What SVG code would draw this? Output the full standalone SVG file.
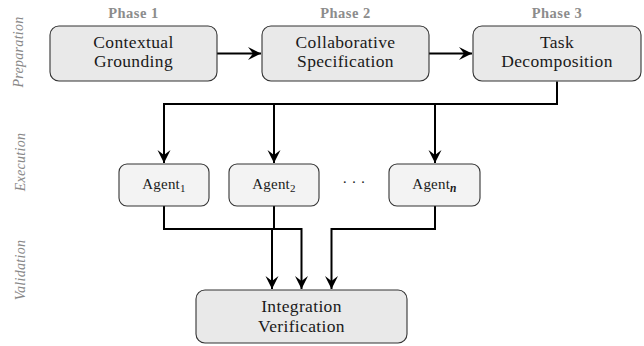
<svg xmlns="http://www.w3.org/2000/svg" width="644" height="346" viewBox="0 0 644 346">
  <style>
    .box { fill: #e9e9e9; stroke: #333; stroke-width: 1.1; }
    .abox { fill: #f3f3f3; stroke: #333; stroke-width: 1.1; }
    .t { font-family: "Liberation Serif", "DejaVu Serif", serif; font-size: 17.5px; letter-spacing: 0.35px; fill: #1a1a1a; text-anchor: middle; }
    .at { font-family: "Liberation Serif", "DejaVu Serif", serif; font-size: 15px; letter-spacing: 0.2px; fill: #1a1a1a; text-anchor: middle; }
    .ph { font-family: "Liberation Serif", "DejaVu Serif", serif; font-size: 14.5px; letter-spacing: 0.5px; font-weight: bold; fill: #8c8c8c; text-anchor: middle; }
    .side { font-family: "Liberation Serif", "DejaVu Serif", serif; font-size: 14px; letter-spacing: 0.3px; font-style: italic; fill: #888; text-anchor: middle; }
    .c { fill: none; stroke: #000; stroke-width: 2; marker-end: url(#ah); }
  </style>
  <defs>
    <marker id="ah" markerUnits="userSpaceOnUse" markerWidth="16" markerHeight="16" viewBox="-14 -8 16 16" refX="0" refY="0" orient="auto">
      <path d="M0,0 L-13,-6.5 L-8,0 L-13,6.5 Z" fill="#000"/>
    </marker>
  </defs>

  <g id="side-labels">
    <text class="side" transform="translate(23,52) rotate(-90)">Preparation</text>
    <text class="side" transform="translate(25,162) rotate(-90)">Execution</text>
    <text class="side" transform="translate(25,270) rotate(-90)">Validation</text>
  </g>

  <g id="phase-labels">
    <text class="ph" x="133.5" y="18">Phase 1</text>
    <text class="ph" x="345.5" y="18">Phase 2</text>
    <text class="ph" x="557" y="18">Phase 3</text>
  </g>

  <g id="connectors">
    <path class="c" d="M217,53.5 H261"/>
    <path class="c" d="M429,53.5 H472"/>
    <path class="c" d="M557,81.5 V104 H164 V163"/>
    <path class="c" d="M274,104 V163"/>
    <path class="c" d="M435,104 V163"/>
    <path class="c" d="M164,206 V229 H272 V289"/>
    <path class="c" d="M274,206 V229 H301.5 V289"/>
    <path class="c" d="M435,206 V229 H331.5 V289"/>
  </g>

  <g id="contextual-grounding">
    <rect class="box" x="50" y="26" width="167" height="55" rx="9"/>
    <text class="t" x="133.5" y="48">Contextual</text>
    <text class="t" x="133.5" y="67">Grounding</text>
  </g>
  <g id="collaborative-specification">
    <rect class="box" x="262" y="26" width="167" height="55" rx="9"/>
    <text class="t" x="345.5" y="48">Collaborative</text>
    <text class="t" x="345.5" y="67">Specification</text>
  </g>
  <g id="task-decomposition">
    <rect class="box" x="473" y="26" width="168" height="55" rx="9"/>
    <text class="t" x="557" y="48">Task</text>
    <text class="t" x="557" y="67">Decomposition</text>
  </g>

  <g id="agent-1">
    <rect class="abox" x="119" y="164" width="90" height="42" rx="8"/>
    <text class="at" x="164" y="189">Agent<tspan font-size="11" dy="2.5">1</tspan></text>
  </g>
  <g id="agent-2">
    <rect class="abox" x="229" y="164" width="90" height="42" rx="8"/>
    <text class="at" x="274" y="189">Agent<tspan font-size="11" dy="2.5">2</tspan></text>
  </g>
  <text class="at" x="354" y="187">· · ·</text>
  <g id="agent-n">
    <rect class="abox" x="389" y="164" width="91" height="42" rx="8"/>
    <text class="at" x="434.5" y="189">Agent<tspan font-size="11.5" font-style="italic" font-weight="bold" dy="2.5">n</tspan></text>
  </g>

  <g id="integration-verification">
    <rect class="box" x="196" y="290" width="211" height="53" rx="9"/>
    <text class="t" x="301.5" y="312">Integration</text>
    <text class="t" x="301.5" y="332">Verification</text>
  </g>
</svg>
